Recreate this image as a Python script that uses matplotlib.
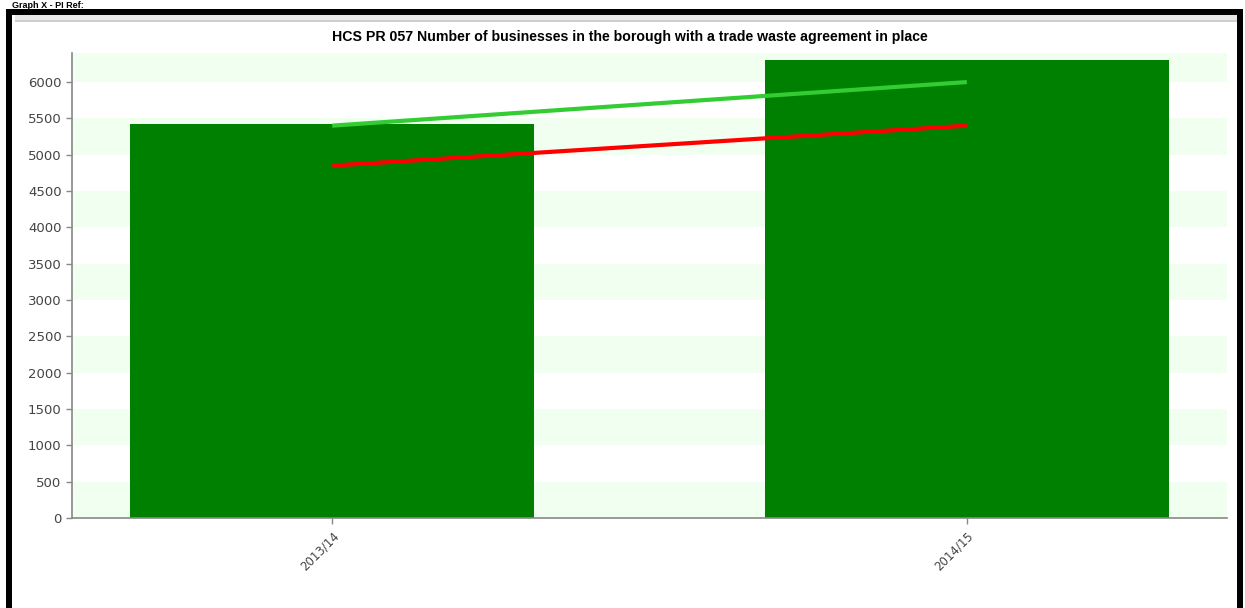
import matplotlib.pyplot as plt
from matplotlib.patches import Rectangle
import numpy as np

# Data
years = ["2013/14", "2014/15"]
actual = [5420, 6300]
target = [5400, 6000]
baseline = [4850, 5400]
y_ticks = list(range(0, 6001, 500))

W, H = 1245, 608
fig = plt.figure(figsize=(W / 100, H / 100), dpi=100)
fig.patch.set_facecolor("white")


def px_rect(x0, y0, x1, y1, color):
    # rectangle given in pixel coords measured from the top-left corner
    fig.patches.append(Rectangle((x0 / W, 1 - y1 / H), (x1 - x0) / W, (y1 - y0) / H,
                                 transform=fig.transFigure, color=color, lw=0, zorder=0))


# page heading above the frame
fig.text(12 / W, 1 - 0.5 / H, "Graph X - PI Ref:", fontsize=6.5, fontweight="bold",
         family="Liberation Sans", va="top", ha="left", color="black")

# frame around the chart
px_rect(15, 15, 1237, 20, "#e8e8e8")
px_rect(15, 20, 1237, 22, "#cfcfcf")
px_rect(6, 9, 1243, 15, "black")
px_rect(6, 9, 12, H, "black")
px_rect(1237, 9, 1243, H, "black")

ax = fig.add_axes([72 / W, 1 - 518 / H, (1227 - 72) / W, (518 - 53) / H])
ax.set_xlim(-0.41, 1.41)
ax.set_ylim(0, 6400)

# alternating horizontal bands
for lo in range(0, 6400, 1000):
    ax.axhspan(lo, min(lo + 500, 6400), color="#f0fff0", lw=0, zorder=0)

x = np.arange(len(years))
ax.bar(x, actual, width=0.636, color="#008000", zorder=2)
ax.plot(x, target, color="#33cc33", lw=3, zorder=3, solid_capstyle="butt")
ax.plot(x, baseline, color="#ff0000", lw=3, zorder=3, solid_capstyle="butt")

ax.set_xticks(x)
ax.set_xticklabels(years, rotation=45, ha="right", rotation_mode="anchor",
                   fontsize=8.5, color="#444444")
ax.set_yticks(y_ticks)
ax.set_yticklabels([str(v) for v in y_ticks], fontsize=9.5, color="#444444")
ax.tick_params(axis="both", length=4, color="#888888", width=1)
ax.tick_params(axis="x", pad=4)

for side in ["top", "right"]:
    ax.spines[side].set_visible(False)
for side in ["left", "bottom"]:
    ax.spines[side].set_color("#888888")
    ax.spines[side].set_linewidth(1.2)

fig.text(630 / W, 1 - 37 / H,
         "HCS PR 057 Number of businesses in the borough with a trade waste agreement in place",
         ha="center", va="center", fontsize=10.2, fontweight="bold",
         family=["Liberation Sans", "DejaVu Sans"], color="black")

fig.savefig("out.png", dpi=100)
